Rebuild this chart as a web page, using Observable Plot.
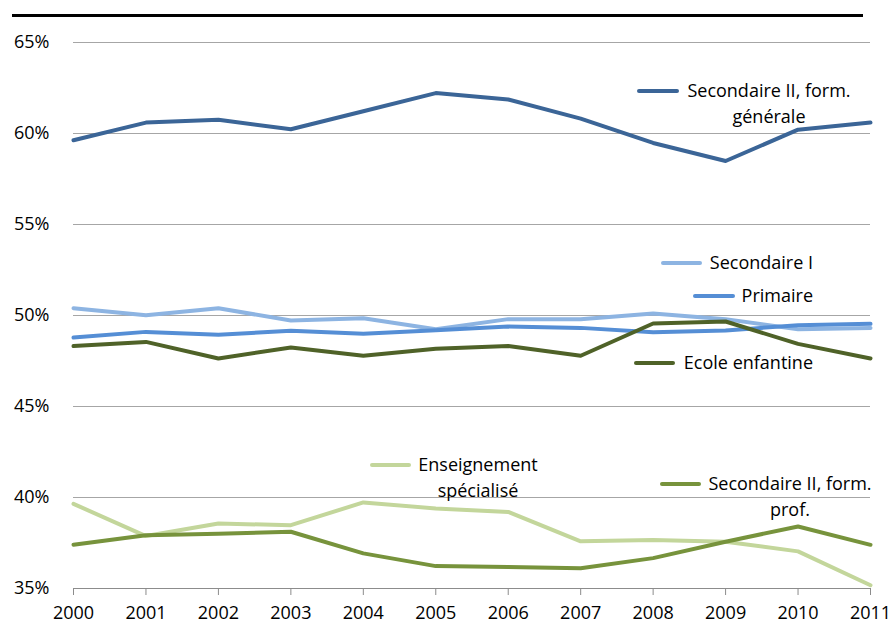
<!DOCTYPE html>
<html><head><meta charset="utf-8">
<script src="https://cdn.jsdelivr.net/npm/d3@7"></script>
<script src="https://cdn.jsdelivr.net/npm/@observablehq/plot@0.6"></script>
<style>
body{margin:0;background:#fff;}
#wrap{position:relative;width:895px;height:624px;}
#topline{position:absolute;left:12px;top:14px;width:851px;height:3px;background:#000;}
</style></head>
<body><div id="wrap"><div id="topline"></div></div>
<script>
const years = [2000,2001,2002,2003,2004,2005,2006,2007,2008,2009,2010,2011];
const secIIGen  = [59.63,60.60,60.76,60.23,61.22,62.22,61.87,60.82,59.48,58.49,60.21,60.60];
const secI      = [50.40,50.01,50.40,49.72,49.85,49.25,49.80,49.80,50.11,49.80,49.25,49.32];
const primaire  = [48.79,49.10,48.94,49.16,49.00,49.19,49.39,49.32,49.08,49.17,49.47,49.54];
const ecole     = [48.32,48.55,47.64,48.24,47.79,48.17,48.32,47.79,49.56,49.67,48.44,47.64];
const ensSpec   = [39.65,37.88,38.57,38.48,39.73,39.40,39.21,37.59,37.66,37.57,37.04,35.18];
const secIIProf = [37.40,37.93,38.01,38.12,36.93,36.23,36.18,36.11,36.67,37.57,38.41,37.40];
const yTicks = [35,40,45,50,55,60,65];

const series = [
  {name:"Secondaire II, form. générale", values:secIIGen, color:"#3b6597"},
  {name:"Secondaire I", values:secI, color:"#8db4e2"},
  {name:"Primaire", values:primaire, color:"#558ed5"},
  {name:"Ecole enfantine", values:ecole, color:"#4f6228"},
  {name:"Enseignement spécialisé", values:ensSpec, color:"#c3d69b"},
  {name:"Secondaire II, form. prof.", values:secIIProf, color:"#77933c"}
];
const rows = series.flatMap(s => s.values.map((v,i)=>({year:years[i], value:v, name:s.name, color:s.color})));

const font = "'Open Sans', sans-serif";
const chart = Plot.plot({
  width:895, height:624,
  marginLeft:73, marginRight:25, marginTop:42, marginBottom:36,
  style:{fontFamily:font, fontSize:"18px", color:"#000", background:"transparent"},
  x:{domain:[2000,2011]},
  y:{domain:[35,65]},
  marks:[
    Plot.ruleY(yTicks.filter(d=>d>35), {stroke:"#a6a6a6", strokeWidth:1.2}),
    Plot.ruleY([35], {stroke:"#8c8c8c", strokeWidth:1.2}),
    Plot.axisX({ticks:years, tickFormat:d=>String(d), tickSize:7, tickPadding:11, stroke:"#8c8c8c", fill:"#000", label:null, fontSize:18}),
    Plot.axisY({ticks:yTicks, tickFormat:d=>d+"%", tickSize:0, tickPadding:24, label:null, fontSize:18, fill:"#000"}),
    Plot.line(rows, {x:"year", y:"value", z:"name", stroke:"color", strokeWidth:4, strokeLinejoin:"round"})
  ]
});
chart.style.position="absolute"; chart.style.left="0"; chart.style.top="0";
document.getElementById("wrap").appendChild(chart);

// inline legend (layout positions in px)
const legend = [
  {name:0, sx:[639,677], sy:91, lines:["Secondaire II, form.","générale"], cx:769, anchor:"middle"},
  {name:1, sx:[663,700], sy:263, lines:["Secondaire I"], cx:813, anchor:"end"},
  {name:2, sx:[695,733], sy:296, lines:["Primaire"], cx:813, anchor:"end"},
  {name:3, sx:[636,673], sy:363, lines:["Ecole enfantine"], cx:813, anchor:"end"},
  {name:4, sx:[372,409], sy:465, lines:["Enseignement","spécialisé"], cx:478, anchor:"middle"},
  {name:5, sx:[662,699], sy:484, lines:["Secondaire II, form.","prof."], cx:790, anchor:"middle"}
];
const svg = d3.select(chart);
const g = svg.append("g").attr("font-family", font).attr("font-size", 18);
legend.forEach(l=>{
  const s = series[l.name];
  g.append("line").attr("x1",l.sx[0]).attr("x2",l.sx[1]).attr("y1",l.sy).attr("y2",l.sy)
    .attr("stroke",s.color).attr("stroke-width",4).attr("stroke-linecap","round");
  l.lines.forEach((t,i)=>{
    g.append("text").attr("x",l.cx).attr("y",l.sy+i*26).attr("dy","0.35em")
      .attr("text-anchor",l.anchor).attr("fill","#000").text(t);
  });
});
</script></body></html>
